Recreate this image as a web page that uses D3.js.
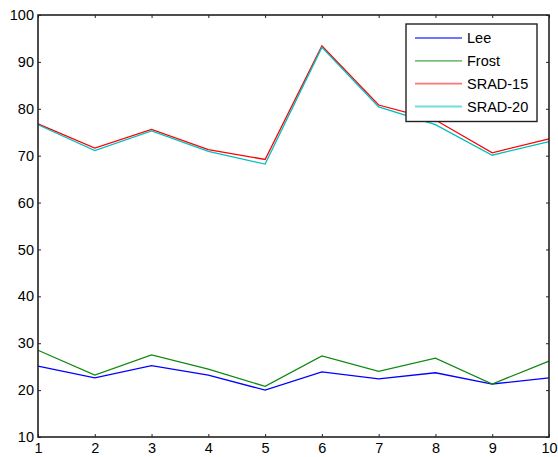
<!DOCTYPE html>
<html><head><meta charset="utf-8">
<script src="https://cdn.jsdelivr.net/npm/d3@7/dist/d3.min.js"></script>
<style>body{margin:0;background:#fff}svg{display:block}text{font-family:"Liberation Sans",Arial,sans-serif}</style>
</head><body><svg id="c" width="558" height="457"></svg>
<script>
const xs = [1,2,3,4,5,6,7,8,9,10];
const lee    = [25.1,22.6,25.2,23.2,20.0,23.9,22.4,23.7,21.3,22.6];
const frost  = [28.5,23.2,27.5,24.5,20.8,27.3,24.0,26.8,21.3,26.2];
const srad15 = [76.8,71.6,75.6,71.3,69.2,93.4,80.8,77.6,70.6,73.6];
const srad20 = [76.6,71.1,75.3,70.9,68.2,93.1,80.4,76.6,70.1,73.0];
const names = ["Lee","Frost","SRAD-15","SRAD-20"];
const colors = ["#0000ff","#118811","#ff0000","#00bfbf"];
const yTicks = [10,20,30,40,50,60,70,80,90,100];

const series = [lee, frost, srad15, srad20];
const svg = d3.select("#c");
const L=38, R=549, T=15, B=437;
const x = d3.scaleLinear().domain([1,10]).range([L,R]);
const y = d3.scaleLinear().domain([10,100]).range([B,T]);

const line = d3.line().x((d,i)=>x(xs[i])).y(d=>y(d));
series.forEach((s,k)=>{
  svg.append("path").attr("d",line(s)).attr("fill","none")
    .attr("stroke",colors[k]).attr("stroke-width",1.3);
});

const axCol="#222";
const gB = svg.append("g").attr("transform",`translate(0,${B})`)
  .call(d3.axisBottom(x).tickValues(xs).tickSize(-3).tickPadding(6).tickFormat(d3.format("d")));
const gT = svg.append("g").attr("transform",`translate(0,${T})`)
  .call(d3.axisTop(x).tickValues(xs).tickSize(-3).tickFormat(""));
const gL = svg.append("g").attr("transform",`translate(${L},0)`)
  .call(d3.axisLeft(y).tickValues(yTicks).tickSize(-3).tickPadding(4).tickFormat(d3.format("d")));
const gR = svg.append("g").attr("transform",`translate(${R},0)`)
  .call(d3.axisRight(y).tickValues(yTicks).tickSize(-3).tickFormat(""));
[gB,gT,gL,gR].forEach(g=>{
  g.select(".domain").remove();
  g.selectAll(".tick line").attr("stroke",axCol).attr("stroke-width",1);
  g.selectAll("text").attr("font-size",14.5).attr("fill","#000").attr("font-family","Liberation Sans, Arial, sans-serif");
});
gB.selectAll("text").attr("dy","0.71em");
svg.append("rect").attr("x",L).attr("y",T).attr("width",R-L).attr("height",B-T)
  .attr("fill","none").attr("stroke",axCol).attr("stroke-width",1.6);

const lg = svg.append("g");
lg.append("rect").attr("x",406).attr("y",24).attr("width",131).attr("height",97.5)
  .attr("fill","#fff").attr("stroke",axCol).attr("stroke-width",1.4);
const ly = d3.scalePoint().domain(names).range([38,106.5]);
names.forEach((n,k)=>{
  lg.append("line").attr("x1",415).attr("x2",462).attr("y1",ly(n)).attr("y2",ly(n))
    .attr("stroke",colors[k]).attr("stroke-width",1.8).attr("stroke-opacity",0.55);
  lg.append("text").attr("x",467).attr("y",ly(n)).attr("dy","0.36em")
    .attr("font-size",14.5).text(n);
});
</script></body></html>
